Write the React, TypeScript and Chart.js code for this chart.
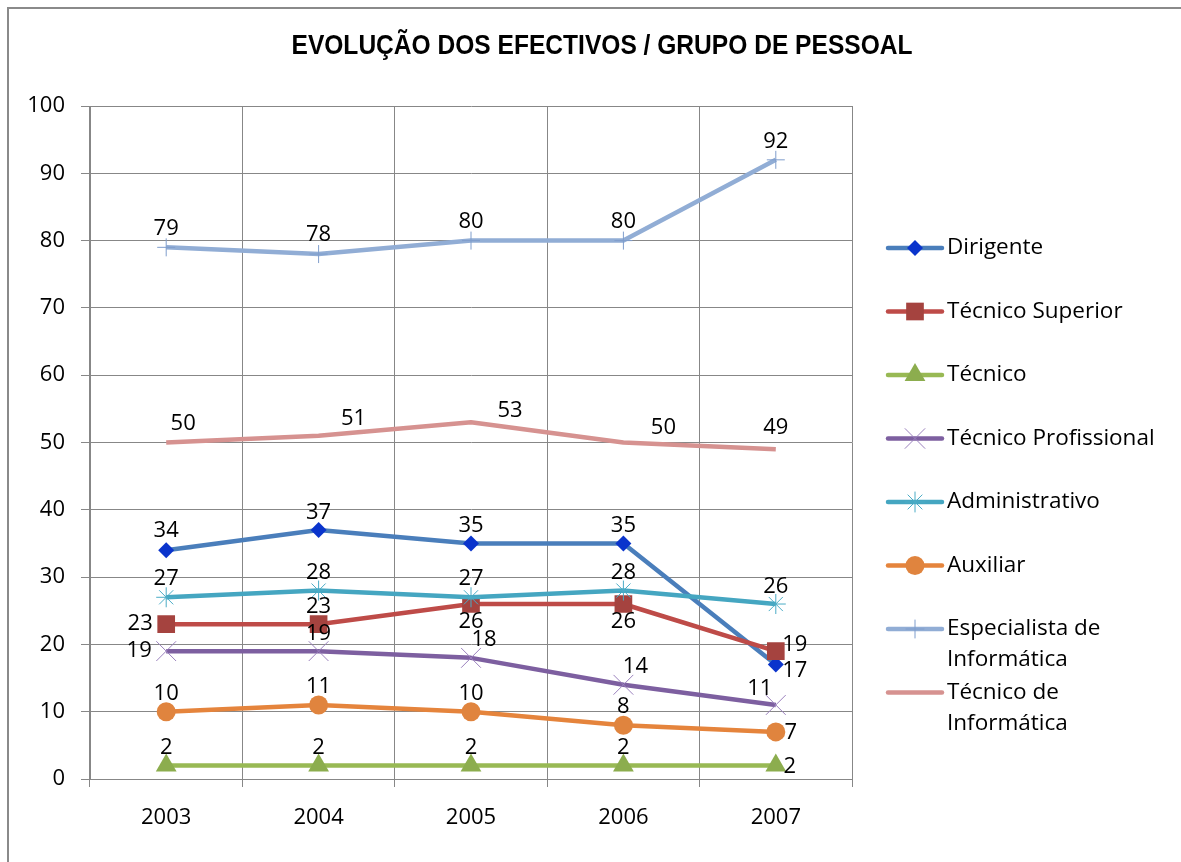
import React, { useEffect, useRef } from 'react';
import { Chart, registerables } from 'chart.js';
import { drawPoint } from 'chart.js/helpers';

Chart.register(...registerables);

const TITLE = 'EVOLUÇÃO DOS EFECTIVOS / GRUPO DE PESSOAL';
const years = ['2003', '2004', '2005', '2006', '2007'];

const dirigente = [34, 37, 35, 35, 17];
const tecnicoSuperior = [23, 23, 26, 26, 19];
const tecnico = [2, 2, 2, 2, 2];
const tecnicoProfissional = [19, 19, 18, 14, 11];
const administrativo = [27, 28, 27, 28, 26];
const auxiliar = [10, 11, 10, 8, 7];
const especialistaInformatica = [79, 78, 80, 80, 92];
const tecnicoInformatica = [50, 51, 53, 50, 49];

const seriesNames = [
  'Dirigente',
  'Técnico Superior',
  'Técnico',
  'Técnico Profissional',
  'Administrativo',
  'Auxiliar',
  'Especialista de Informática',
  'Técnico de Informática',
];
const legendLines = [
  ['Dirigente'],
  ['Técnico Superior'],
  ['Técnico'],
  ['Técnico Profissional'],
  ['Administrativo'],
  ['Auxiliar'],
  ['Especialista de', 'Informática'],
  ['Técnico de', 'Informática'],
];

// styling (not data)
const styles = [
  { line: '#4a7ebb', fill: '#0a34cc', stroke: '#0a34cc', point: 'rectRot', r: 8, bw: 0 },
  { line: '#be4b48', fill: '#a5433f', stroke: '#a5433f', point: 'rect', r: 12.5, bw: 0 },
  { line: '#98b954', fill: '#8cad4e', stroke: '#8cad4e', point: 'triangle', r: 12, bw: 0 },
  { line: '#7d5fa0', fill: 'rgba(0,0,0,0)', stroke: '#9a80bd', point: 'crossRot', r: 14, bw: 1 },
  { line: '#45a6c1', fill: 'rgba(0,0,0,0)', stroke: '#4bacc6', point: 'star', r: 10, bw: 1 },
  { line: '#e5843c', fill: '#e0843e', stroke: '#e0843e', point: 'circle', r: 9.5, bw: 0 },
  { line: '#91add5', fill: 'rgba(0,0,0,0)', stroke: '#7f9dcc', point: 'cross', r: 9, bw: 1 },
  { line: '#d69290', fill: '#d69290', stroke: '#d69290', point: false as any, r: 0, bw: 0 },
];

// label offsets [dx, dy] from each point
const labelOffsets: number[][][] = [
  [[0, -19], [0, -17], [0, -18], [0, -18], [19, 6]],
  [[-26, 0], [0, -17], [0, 18], [0, 18], [19, -6]],
  [[0, -18], [0, -18], [0, -18], [0, -18], [14, 1]],
  [[-27, 0], [0, -17], [13, -18], [12, -18], [-16, -16]],
  [[0, -19], [0, -18], [0, -19], [0, -18], [0, -17]],
  [[0, -18], [0, -18], [0, -18], [0, -18], [15, 1]],
  [[0, -19], [0, -19], [0, -19], [0, -19], [0, -18]],
  [[17, -19], [35, -17], [39, -12], [40, -15], [0, -21]],
];

const seriesData = [
  dirigente,
  tecnicoSuperior,
  tecnico,
  tecnicoProfissional,
  administrativo,
  auxiliar,
  especialistaInformatica,
  tecnicoInformatica,
];

const FONT_FAMILY = '"Open Sans", "Noto Sans", sans-serif';
const GRID = '#878787';

const decorPlugin = {
  id: 'decor',
  afterDatasetsDraw(chart: any) {
    const ctx = chart.ctx as CanvasRenderingContext2D;
    ctx.save();
    ctx.fillStyle = '#000';
    ctx.font = `22px ${FONT_FAMILY}`;
    ctx.textAlign = 'center';
    ctx.textBaseline = 'middle';
    chart.data.datasets.forEach((ds: any, i: number) => {
      const meta = chart.getDatasetMeta(i);
      meta.data.forEach((pt: any, j: number) => {
        const o = labelOffsets[i][j];
        ctx.fillText(String(ds.data[j]), pt.x + o[0], pt.y + o[1]);
      });
    });
    ctx.restore();
  },
  afterDraw(chart: any) {
    const ctx = chart.ctx as CanvasRenderingContext2D;
    ctx.save();
    // title
    ctx.fillStyle = '#000';
    ctx.font = `bold 28px "Liberation Sans", Arial, sans-serif`;
    ctx.textAlign = 'center';
    ctx.textBaseline = 'middle';
    ctx.fillText(TITLE, 602, 46, 621);

    // legend
    const x0 = 888;
    const x1 = 942;
    const tx = 947;
    const startY = 248;
    const step = 63.5;
    ctx.font = `22.5px ${FONT_FAMILY}`;
    ctx.textAlign = 'left';
    chart.data.datasets.forEach((ds: any, i: number) => {
      const y = startY + i * step;
      const st = styles[i];
      ctx.beginPath();
      ctx.strokeStyle = st.line;
      ctx.lineWidth = 4.5;
      ctx.lineCap = 'round';
      ctx.moveTo(x0, y);
      ctx.lineTo(x1, y);
      ctx.stroke();
      if (st.point) {
        ctx.fillStyle = st.fill;
        ctx.strokeStyle = st.stroke;
        ctx.lineWidth = st.bw || 1;
        drawPoint(ctx, { pointStyle: st.point, radius: st.r, rotation: 0, borderWidth: st.bw }, (x0 + x1) / 2, y);
      }
      ctx.fillStyle = '#000';
      legendLines[i].forEach((t, k) => {
        ctx.fillText(t, tx, y + k * 31);
      });
    });
    ctx.restore();
  },
};

export default function App() {
  const ref = useRef<HTMLCanvasElement>(null);
  useEffect(() => {
    const n = seriesData.length;
    const chart = new Chart(ref.current as HTMLCanvasElement, {
      type: 'line',
      data: {
        labels: years,
        datasets: seriesData.map((d, i) => ({
          label: seriesNames[i],
          data: d,
          borderColor: styles[i].line,
          borderWidth: 4.5,
          backgroundColor: styles[i].fill,
          pointStyle: styles[i].point,
          pointRadius: styles[i].r,
          pointHoverRadius: styles[i].r,
          pointBackgroundColor: styles[i].fill,
          pointBorderColor: styles[i].stroke,
          pointBorderWidth: styles[i].bw,
          tension: 0,
          borderJoinStyle: 'round' as const,
          fill: false,
          order: n - i,
        })),
      },
      options: {
        animation: false,
        responsive: false,
        events: [],
        layout: { padding: { left: 0, top: 106, right: 329, bottom: 0 } },
        plugins: {
          legend: { display: false },
          title: { display: false },
          tooltip: { enabled: false },
        },
        scales: {
          x: {
            offset: true,
            grid: { color: GRID, lineWidth: 1, offset: true, tickLength: 8, tickColor: GRID },
            border: { color: GRID, width: 1 },
            ticks: { color: '#000', font: { family: FONT_FAMILY, size: 22 }, padding: 18, maxRotation: 0 },
            afterFit: (s: any) => {
              s.height = 83;
            },
          },
          y: {
            min: 0,
            max: 100,
            ticks: { stepSize: 10, color: '#000', font: { family: FONT_FAMILY, size: 22 }, padding: 16 },
            grid: { color: GRID, lineWidth: 1, tickLength: 9, tickColor: GRID },
            border: { color: GRID, width: 1 },
            afterFit: (s: any) => {
              s.width = 90;
            },
          },
        },
      },
      plugins: [decorPlugin],
    });
    return () => chart.destroy();
  }, []);

  return (
    <div style={{ position: 'fixed', left: 0, top: 0, width: 1181, height: 862, background: '#fff', overflow: 'hidden' }}>
      <div
        style={{
          position: 'absolute',
          left: 7,
          top: 7,
          width: 1180,
          height: 860,
          borderLeft: '2px solid #8a8a8a',
          borderTop: '2px solid #8a8a8a',
          boxSizing: 'border-box',
        }}
      />
      <canvas ref={ref} width={1181} height={862} style={{ position: 'absolute', left: 0, top: 0, width: 1181, height: 862 }} />
    </div>
  );
}
